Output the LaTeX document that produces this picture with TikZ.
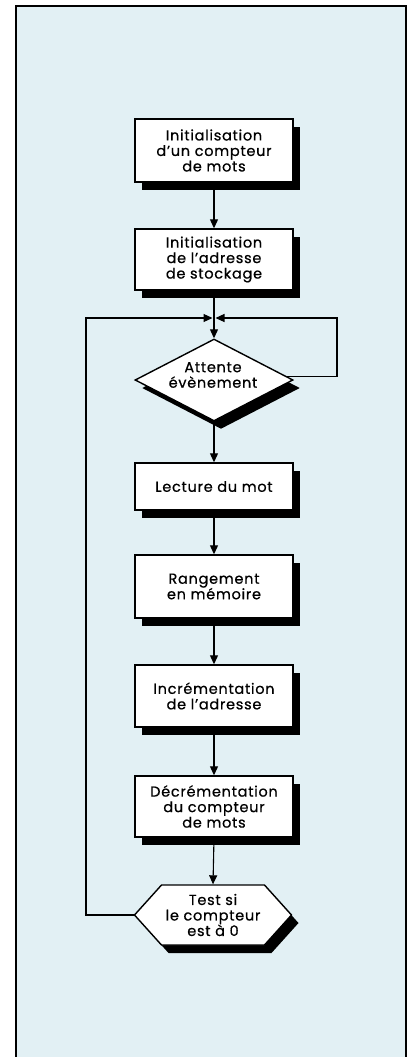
\documentclass[tikz,border=0pt]{standalone}
\usepackage{fontspec}
\setmainfont{Poppins}
\newfontfamily\boxfont{Poppins}[LetterSpace=5,FakeBold=0.6]
\usetikzlibrary{arrows.meta,shapes.geometric,shapes.symbols,shadows}
\definecolor{paper}{RGB}{226,240,244}
\begin{document}
\begin{tikzpicture}[x=1pt,y=-1pt,
  shad/.style={general shadow={fill=black,shadow xshift=7pt,shadow yshift=-8pt}},
  txt/.style={font=\boxfont\fontsize{14.5}{15.5}\selectfont,align=center,text=black},
  proc/.style={rectangle,draw=black,line width=1.4pt,fill=white,minimum width=158pt,inner sep=0pt,txt,shad},
  decision/.style={diamond,aspect=2,draw=black,line width=1.4pt,fill=white,minimum width=158pt,minimum height=82pt,inner sep=0pt,shad},
  hexa/.style={signal,signal to=east and west,signal pointer angle=96,draw=black,line width=1.4pt,fill=white,minimum width=157pt,minimum height=60pt,inner sep=0pt,txt,shad},
  conn/.style={line width=1.1pt,-{Triangle[length=9pt,width=8pt]}}]
\useasboundingbox (0,0) rectangle (414,1057);
\clip (0,0) rectangle (414,1057);
\fill[white] (0,0) rectangle (414,1057);
\draw[line width=2pt,fill=paper] (16,6) rectangle (406,1075);

\node[proc,minimum height=63pt] (b1) at (214,150.5) {Initialisation\\d’un compteur\\de mots};
\node[proc,minimum height=61pt] (b2) at (214,259.5) {Initialisation\\de l’adresse\\de stockage};
\node[decision] (dec) at (214,380) {};
\node[txt] (dect) at (213,375) {Attente\\évènement};
\node[proc,minimum height=47pt] (b3) at (214,486.5) {Lecture du mot};
\node[proc,minimum height=63pt] (b4) at (214,586.5) {Rangement\\en mémoire};
\node[proc,minimum height=62pt] (b5) at (214,696) {Incrémentation\\de l’adresse};
\node[proc,minimum height=61pt] (b6) at (214,806.5) {Décrémentation\\du compteur\\de mots};
\node[hexa] (hex) at (213,915) {Test si\\le compteur\\est à 0};

\coordinate (m) at (214,318);
\coordinate (lc) at (86,318);
\coordinate (rc) at (337,318);

\draw[conn] (b1.south) -- (b2.north);
\draw[conn] (b2.south) -- (dec.north);
\draw[conn] (dec.south) -- (b3.north);
\draw[conn] (b3.south) -- (b4.north);
\draw[conn] (b4.south) -- (b5.north);
\draw[conn] (b5.south) -- (b6.north);
\draw[conn] (b6.south) -- (hex.north);
\draw[conn,shorten >=1.5pt] (hex.west) -| (lc) -- (m);
\draw[conn,shorten >=1.5pt] ([xshift=-7.5pt,yshift=3.8pt]dec.east) -| (rc) -- (m);
\end{tikzpicture}
\end{document}
